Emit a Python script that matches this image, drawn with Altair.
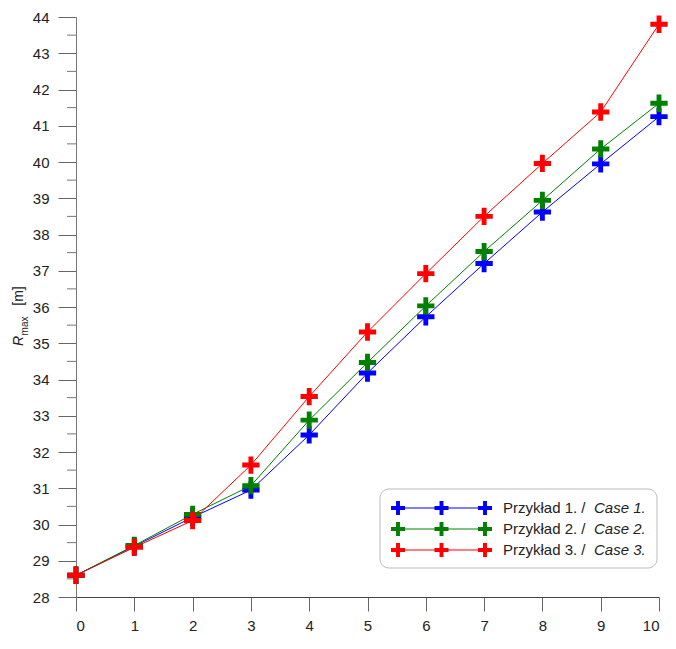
import altair as alt
import pandas as pd

# ---- data ----
x_vals = [0, 1, 2, 3, 4, 5, 6, 7, 8, 9, 10]
case1 = [28.6, 29.40, 30.20, 30.95, 32.47, 34.18, 35.73, 37.20, 38.62, 39.95, 41.25]
case2 = [28.6, 29.42, 30.28, 31.07, 32.88, 34.47, 36.03, 37.53, 38.94, 40.36, 41.62]
case3 = [28.6, 29.37, 30.11, 31.64, 33.53, 35.31, 36.92, 38.50, 39.96, 41.38, 43.80]

series_names = ["Case 1", "Case 2", "Case 3"]
series_colors = ["#0000ff", "#008000", "#ff0000"]
legend_main = ["Przykład 1. / ", "Przykład 2. / ", "Przykład 3. / "]
legend_ital = ["Case 1.", "Case 2.", "Case 3."]

x_ticks = list(range(0, 11))
y_ticks = list(range(28, 45))
y_minor = [v + 0.5 for v in range(28, 44)]

rows = []
for name, vals in zip(series_names, [case1, case2, case3]):
    for xv, yv in zip(x_vals, vals):
        rows.append({"x": xv, "y": yv, "series": name})
df = pd.DataFrame(rows)

CROSS = "M-1,-0.28H-0.28V-1H0.28V-0.28H1V0.28H0.28V1H-0.28V0.28H-1Z"
FONT = "Liberation Sans"

xscale = alt.Scale(domain=[0, 10], nice=False, zero=False)
yscale = alt.Scale(domain=[28, 44], nice=False, zero=False)

xaxis = alt.Axis(values=x_ticks, tickSize=14, labelPadding=7, domainColor="#444",
                 tickColor="#666", labelFontSize=15, labelFont=FONT, labelColor="#222",
                 grid=False, title=None, labelAngle=0)
yaxis = alt.Axis(values=y_ticks, tickSize=18, labelPadding=9, domainColor="#777",
                 tickColor="#666", labelFontSize=15, labelFont=FONT, labelColor="#222",
                 grid=False, title=None, format="d")

layers = []

# minor y ticks
minor_df = pd.DataFrame({"y": y_minor})
layers.append(
    alt.Chart(minor_df).mark_rule(color="#777", strokeWidth=1).encode(
        x=alt.value(-9), x2=alt.value(0),
        y=alt.Y("y:Q", scale=yscale, axis=yaxis),
    )
)

for name, col in zip(series_names, series_colors):
    sub = df[df["series"] == name]
    base = alt.Chart(sub).encode(
        x=alt.X("x:Q", scale=xscale, axis=xaxis),
        y=alt.Y("y:Q", scale=yscale, axis=yaxis),
    )
    layers.append(base.mark_line(color=col, strokeWidth=1))
    layers.append(base.mark_point(shape=CROSS, filled=True, size=300, color=col, opacity=1))

# legend box
one = alt.Data(values=[{"a": 1}])
layers.append(
    alt.Chart(one).mark_rect(fill="white", stroke="#bbbbbb", strokeWidth=1, cornerRadius=9).encode(
        x=alt.value(304), x2=alt.value(581), y=alt.value(472), y2=alt.value(551)
    )
)
legend_rows_y = [491, 512, 533]
legend_sym_x = [322, 365.5, 409]
for ly, col, t1, t2 in zip(legend_rows_y, series_colors, legend_main, legend_ital):
    layers.append(
        alt.Chart(one).mark_rule(color=col, strokeWidth=1).encode(
            x=alt.value(legend_sym_x[0]), x2=alt.value(legend_sym_x[-1]), y=alt.value(ly)
        )
    )
    for lx in legend_sym_x:
        layers.append(
            alt.Chart(one).mark_point(shape=CROSS, filled=True, size=196, color=col, opacity=1).encode(
                x=alt.value(lx), y=alt.value(ly)
            )
        )
    layers.append(
        alt.Chart(one).mark_text(text=t1, align="left", baseline="middle", fontSize=15,
                                 font=FONT, color="#222").encode(
            x=alt.value(427), y=alt.value(ly)
        )
    )
    layers.append(
        alt.Chart(one).mark_text(text=t2, align="left", baseline="middle", fontSize=15,
                                 font=FONT, fontStyle="italic", color="#222").encode(
            x=alt.value(518), y=alt.value(ly)
        )
    )

# y-axis title R_max [m]
layers.append(
    alt.Chart(one).mark_text(text="R", angle=270, align="center", baseline="alphabetic",
                             fontSize=14, font=FONT, fontStyle="italic", color="#222").encode(
        x=alt.value(-53), y=alt.value(324)
    )
)
layers.append(
    alt.Chart(one).mark_text(text="max", angle=270, align="center", baseline="alphabetic",
                             fontSize=10, font=FONT, color="#222").encode(
        x=alt.value(-48), y=alt.value(309)
    )
)
layers.append(
    alt.Chart(one).mark_text(text="[m]", angle=270, align="center", baseline="alphabetic",
                             fontSize=14, font=FONT, color="#222").encode(
        x=alt.value(-53), y=alt.value(279)
    )
)

chart = alt.layer(*layers).properties(
    width=583, height=580,
    autosize=alt.AutoSizeParams(type="none"),
    padding={"left": 68, "top": 9, "right": 9, "bottom": 38},
    background="white",
).configure_view(stroke=None)

chart.save("out.html", embed_options={"renderer": "svg", "actions": False})
